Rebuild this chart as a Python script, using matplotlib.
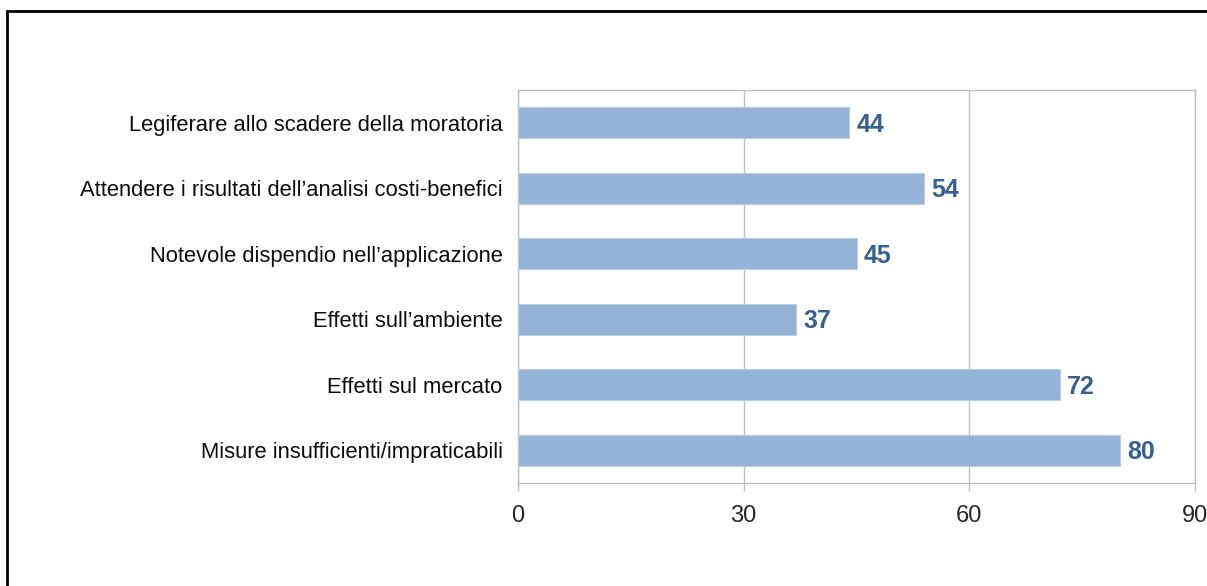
import matplotlib
matplotlib.use("Agg")
import matplotlib.pyplot as plt
from matplotlib.patches import Rectangle

# dati
categorie = [
    "Legiferare allo scadere della moratoria",
    "Attendere i risultati dell\u2019analisi costi-benefici",
    "Notevole dispendio nell\u2019applicazione",
    "Effetti sull\u2019ambiente",
    "Effetti sul mercato",
    "Misure insufficienti/impraticabili",
]
valori = [44, 54, 45, 37, 72, 80]
tick_x = [0, 30, 60, 90]

plt.rcParams['font.family'] = ['Liberation Sans', 'DejaVu Sans']

fig = plt.figure(figsize=(12.07, 5.86), dpi=100)
ax = fig.add_axes([518 / 1207, 1 - 483 / 586, (1195 - 518) / 1207, (483 - 90) / 586])

pos = list(range(len(categorie)))
ax.barh(pos, valori, height=0.47, color='#95B3D7', edgecolor='#B9CDE5', linewidth=0.8, zorder=3)

# etichette dei valori
for p, v in zip(pos, valori):
    ax.text(v + 1.0, p + 0.03, str(v), va='center', ha='left', fontsize=18,
            fontweight='bold', color='#376092', zorder=4)

ax.set_xlim(0, 90)
ax.set_ylim(len(categorie) - 0.5, -0.5)
ax.set_xticks(tick_x)
ax.set_xticklabels([str(t) for t in tick_x])
ax.set_yticks(pos)
ax.set_yticklabels(categorie)

ax.xaxis.grid(True, color='#BFBFBF', linewidth=1.0, zorder=0)
ax.set_axisbelow(True)
for s in ax.spines.values():
    s.set_color('#BFBFBF')
    s.set_linewidth(1.0)

ax.tick_params(axis='x', length=6, width=1.0, color='#BFBFBF', labelsize=17,
               labelcolor='#262626', pad=10)
ax.tick_params(axis='y', length=0, labelsize=15.8, labelcolor='#0D0D0D', pad=11)

# cornice nera del riquadro
fig.patches.append(Rectangle((7 / 1207, -0.05), 1.1, 1 - 11 / 586 + 0.05,
                             transform=fig.transFigure, fill=False,
                             edgecolor='black', linewidth=2.0))

fig.savefig("out.png", dpi=100)
